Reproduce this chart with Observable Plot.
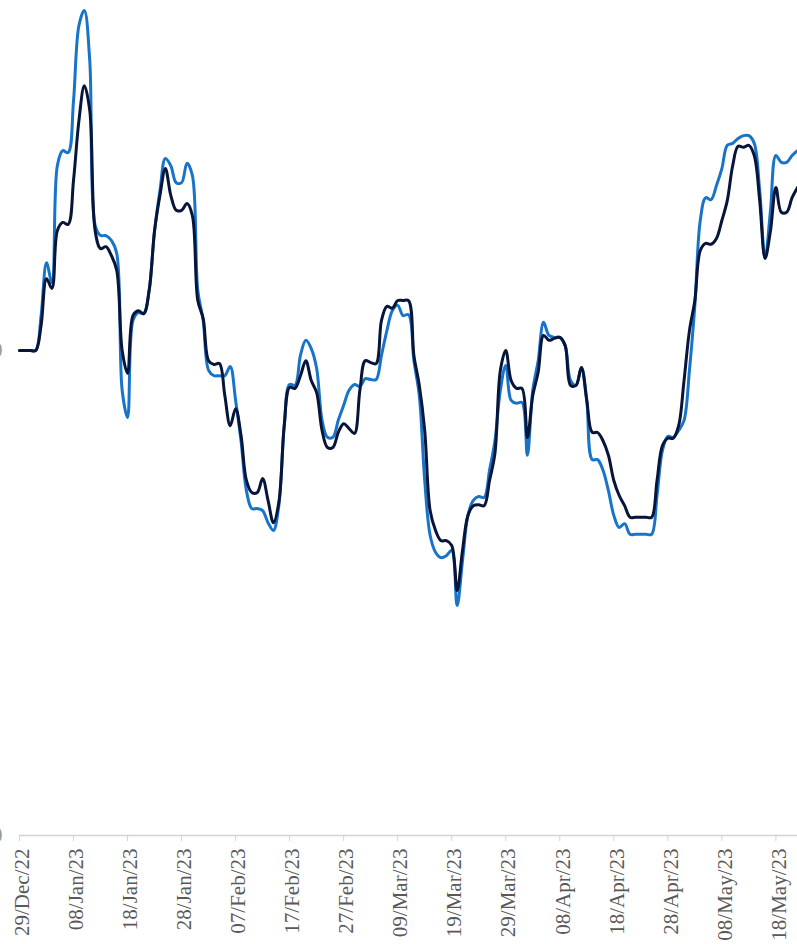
<!DOCTYPE html>
<html>
<head>
<meta charset="utf-8">
<script src="https://cdn.jsdelivr.net/npm/d3@7"></script>
<script src="https://cdn.jsdelivr.net/npm/@observablehq/plot@0.6"></script>
<style>
  html, body { margin: 0; padding: 0; background: #fff; }
  #chart { width: 797px; height: 944px; overflow: hidden; }
</style>
</head>
<body>
<div id="chart"></div>
<script>
// Daily series, 29 Dec 2022 -> 22 May 2023 (rebased index, start = 100)
const startDate = "2022-12-29";
const endDate = "2023-05-22";

const seriesNames = ["Series A", "Series B"];
const seriesColors = ["#1874c9", "#061539"];

const seriesA = [
  100,100,100,100,
  107.2,118.1,114.0,138.1,141.2,140.8,
  151.5,167.0,170.1,159.8,
  125.8,123.7,123.7,122.7,120.0,
  91.8,86.2,106.2,107.8,107.6,112.4,
  124.7,133.0,139.6,138.1,134.6,134.6,138.6,136.1,
  112.4,106.2,95.9,94.8,94.8,
  94.8,96.7,89.7,81.4,71.1,67.4,67.4,
  67.0,64.5,62.9,68.0,84.5,93.0,92.8,
  99.0,102.1,100.4,96.3,85.6,82.1,82.1,
  85.6,88.7,91.8,93.0,92.6,94.2,94.0,94.0,
  99.0,104.1,108.2,109.3,107.2,107.4,
  97.9,90.7,73.2,61.9,58.4,57.3,57.7,58.8,
  47.4,56.7,66.0,69.1,69.9,69.7,75.3,81.4,
  91.8,96.9,89.7,89.1,89.3,78.4,91.8,97.9,
  105.8,103.1,102.7,102.7,101.0,93.8,92.8,96.5,89.7,
  77.5,77.5,75.3,71.1,66.0,63.5,64.3,62.1,62.1,62.1,62.1,62.1,
  70.1,79.4,82.3,82.1,83.5,85.6,95.9,109.3,
  126.8,131.5,131.1,134.0,137.5,142.3,142.7,143.7,144.3,144.3,142.7,
  133.0,119.0,128.9,140.2,138.8,138.8,140.2,141.2
];

const seriesB = [
  100,100,100,100,
  105.2,114.8,112.8,124.7,126.4,126.0,
  135.1,147.4,154.6,149.5,
  124.7,121.0,121.4,119.6,116.5,
  100.0,95.3,107.2,108.2,107.6,112.4,
  124.7,132.0,137.5,132.0,128.9,128.9,130.3,127.8,
  110.3,106.6,97.9,97.1,97.3,
  90.7,84.5,88.0,82.5,73.2,70.7,70.7,
  73.6,69.1,64.5,68.7,84.5,92.4,92.2,
  94.8,97.9,93.8,91.3,83.5,80.0,80.0,
  83.1,84.9,83.9,82.9,91.8,97.9,97.5,97.3,
  106.2,109.1,108.7,110.3,110.3,110.3,
  99.0,92.8,83.5,67.0,62.9,60.8,60.8,59.8,
  50.5,58.8,66.0,68.0,68.2,68.0,73.2,78.8,
  95.9,100.0,93.8,92.2,92.2,82.0,90.7,95.5,
  103.1,102.1,102.5,102.7,101.0,92.8,92.8,96.5,89.7,
  83.1,83.1,81.4,78.4,73.2,70.1,68.0,65.6,65.6,65.6,65.6,65.6,
  73.2,80.4,81.9,81.9,84.5,93.8,104.1,110.3,
  120.6,122.1,121.9,123.1,126.8,130.9,138.1,142.1,141.9,142.3,140.2,
  130.9,119.0,124.7,133.6,128.5,128.5,131.5,133.6
];

const tickLabels = [
  "2022-12-29","2023-01-08","2023-01-18","2023-01-28","2023-02-07",
  "2023-02-17","2023-02-27","2023-03-09","2023-03-19","2023-03-29",
  "2023-04-08","2023-04-18","2023-04-28","2023-05-08","2023-05-18"
];
const yTicks = [0, 100];

const parse = d3.utcParse("%Y-%m-%d");
const start = parse(startDate), end = parse(endDate);
const dates = d3.utcDay.range(start, d3.utcDay.offset(end, 1));
const tickDates = tickLabels.map(parse);

const data = [];
[seriesA, seriesB].forEach((vals, k) => {
  vals.forEach((v, i) => data.push({date: dates[i], value: v, series: seriesNames[k]}));
});

const chart = Plot.plot({
  width: 797,
  height: 944,
  marginLeft: 19,
  marginRight: 0,
  marginTop: 0,
  marginBottom: 109,
  style: {fontFamily: "'Liberation Serif', 'Times New Roman', serif", fontSize: "21px", background: "white"},
  x: {type: "utc", domain: [start, end]},
  y: {domain: [0, 172.16]},
  color: {domain: seriesNames, range: seriesColors},
  marks: [
    Plot.ruleY([0], {stroke: "#d3d3d3", strokeWidth: 1.5}),
    Plot.axisX({ticks: tickDates, tickSize: 6, tickFormat: () => "", color: "#d3d3d3", label: null}),
    Plot.axisX({ticks: tickDates, tickSize: 0, tickPadding: 13, tickRotate: -90, dx: 3,
      tickFormat: d3.utcFormat("%d/%b/%y"), color: "#595959", fontSize: 21, label: null}),
    Plot.axisY({ticks: yTicks, tickSize: 0, tickPadding: 17, color: "#9a9a9a", fontSize: 21, label: null}),
    Plot.line(data, {x: "date", y: "value", z: "series", stroke: "series", strokeWidth: 3,
      curve: "catmull-rom", strokeLinejoin: "round", strokeLinecap: "round"})
  ]
});
document.getElementById("chart").appendChild(chart);
</script>
</body>
</html>
